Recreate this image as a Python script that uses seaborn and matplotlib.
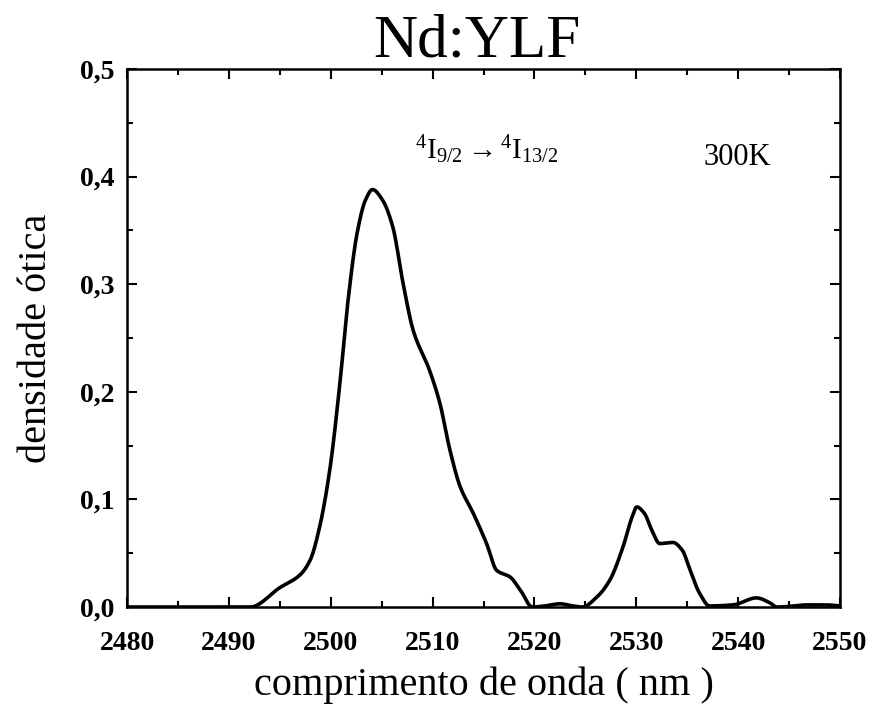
import numpy as np
import pandas as pd
import matplotlib
matplotlib.use("Agg")
import matplotlib.pyplot as plt
from matplotlib.ticker import MultipleLocator, FuncFormatter
import seaborn as sns
from scipy.interpolate import PchipInterpolator

# Absorption spectrum of Nd:YLF, 4I9/2 -> 4I13/2, at 300 K
wavelength_nm = [2480.0, 2486.0, 2492.1, 2495.0, 2497.0, 2498.0, 2498.9, 2499.9,
                 2500.9, 2501.7, 2502.6, 2503.4, 2504.1, 2505.1, 2506.1, 2507.1,
                 2508.1, 2509.7, 2510.7, 2511.7, 2512.7, 2514.0, 2515.3, 2516.3,
                 2517.6, 2518.6, 2519.8, 2521.0, 2522.5, 2523.8, 2524.7, 2526.1,
                 2527.4, 2528.7, 2529.6, 2530.05, 2530.8, 2531.5, 2532.3, 2533.6,
                 2534.5, 2535.3, 2536.2, 2537.2, 2539.5, 2541.8, 2543.1, 2543.8,
                 2545.5, 2546.7, 2548.5, 2550.0]
optical_density = [0.0, 0.0, 0.0, 0.018, 0.030, 0.044, 0.074, 0.127,
                   0.208, 0.285, 0.348, 0.378, 0.388, 0.378, 0.353, 0.301,
                   0.257, 0.220, 0.190, 0.146, 0.112, 0.087, 0.059, 0.034,
                   0.028, 0.016, 0.0, 0.001, 0.003, 0.001, 0.0, 0.009,
                   0.025, 0.056, 0.084, 0.093, 0.087, 0.072, 0.059, 0.060,
                   0.053, 0.034, 0.013, 0.001, 0.002, 0.0085, 0.004, 0.0,
                   0.001, 0.002, 0.002, 0.001]

x_ticks = [2480, 2490, 2500, 2510, 2520, 2530, 2540, 2550]
y_ticks = [0.0, 0.1, 0.2, 0.3, 0.4, 0.5]

x = np.array(wavelength_nm)
y = np.array(optical_density)
xs = np.linspace(x.min(), x.max(), 1400)
ys = PchipInterpolator(x, y)(xs)
spectrum = pd.DataFrame({"wavelength": xs, "od": ys})

sns.set_style("ticks")
plt.rcParams["font.family"] = ["Liberation Serif", "DejaVu Serif"]
plt.rcParams["mathtext.fontset"] = "custom"
plt.rcParams["mathtext.rm"] = "Liberation Serif"
plt.rcParams["mathtext.it"] = "Liberation Serif:italic"
for key in ["text.color", "axes.labelcolor", "xtick.color", "ytick.color",
            "axes.edgecolor"]:
    plt.rcParams[key] = "black"

fig = plt.figure(figsize=(8.73, 7.2), dpi=100)
ax = fig.add_axes([0.1455, 0.1569, 0.8167, 0.7472])

sns.lineplot(data=spectrum, x="wavelength", y="od", color="black",
             linewidth=2.6, ax=ax)

ax.set_xlim(2480, 2550)
ax.set_ylim(0.0, 0.5)
ax.set_xticks(x_ticks)
ax.set_yticks(y_ticks)
ax.xaxis.set_minor_locator(MultipleLocator(5))
ax.yaxis.set_minor_locator(MultipleLocator(0.05))
ax.yaxis.set_major_formatter(FuncFormatter(lambda v, p: f"{v:.1f}".replace(".", ",")))
ax.tick_params(which="both", direction="in", top=True, right=True,
               color="black", width=1.5)
ax.tick_params(which="major", length=7, labelsize=20)
ax.tick_params(axis="x", which="major", pad=17)
ax.tick_params(axis="y", which="major", pad=9)
ax.tick_params(which="minor", length=4)
for lab in ax.get_xticklabels() + ax.get_yticklabels():
    lab.set_fontweight("bold")
for s in ax.spines.values():
    s.set_color("black")
    s.set_linewidth(1.8)

ax.set_xlabel("comprimento de onda ( nm )", fontsize=29, labelpad=8)
ax.set_ylabel("densidade ótica", fontsize=29, labelpad=18)
ax.set_title("Nd:YLF", fontsize=44, pad=6, x=0.49)

ax.text(2515.3, 0.425, r"$^{4}\mathrm{I}_{9/2}\rightarrow{}^{4}\mathrm{I}_{13/2}$",
        fontsize=21, ha="center", va="center")
ax.text(2539.9, 0.418, "300K", fontsize=22, ha="center", va="center")

fig.savefig("out.png", dpi=100, facecolor="white")
